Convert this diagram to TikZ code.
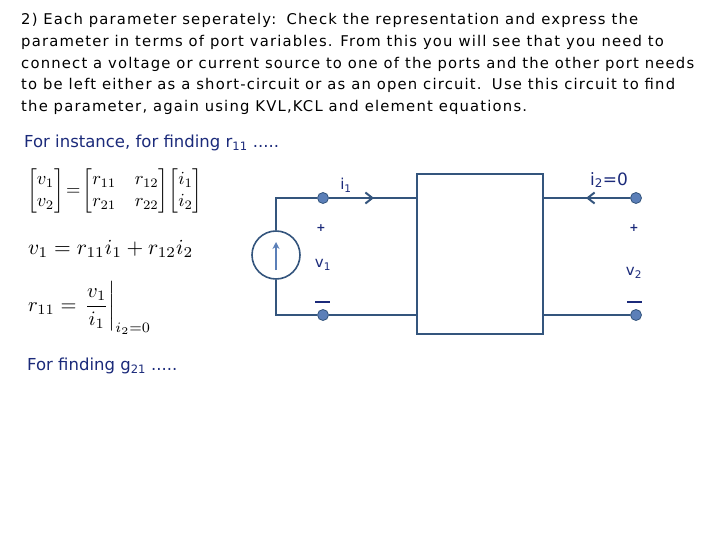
\documentclass[tikz,border=0pt]{standalone}
\usepackage{amsmath}
\usepackage{fontspec}
\setmainfont{DejaVu Sans}
\usetikzlibrary{arrows.meta}
\definecolor{wire}{HTML}{34557D}
\definecolor{term}{HTML}{5B7FB8}
\definecolor{navy}{HTML}{1B2A7A}
\tikzset{
 wr/.style={draw=wire,line width=1.6pt},
 tm/.style={circle,fill=term,draw=wire,line width=0.8pt,minimum size=11pt,inner sep=0pt},
 lb/.style={text=navy,font=\fontsize{14}{16}\selectfont,inner sep=0pt},
 ar/.style={wr,-{Straight Barb[length=7pt,width=11pt,line width=2pt]}},
 eq/.style={anchor=west,inner sep=0pt},
}
\begin{document}
\begin{tikzpicture}[x=1pt,y=-1pt]
\useasboundingbox (0,0) rectangle (720,540);
\node[anchor=north west,align=left,inner sep=0pt,font=\fontsize{14.8}{21.8}\selectfont\addfontfeature{LetterSpace=8}] (txt) at (21,13) {2) Each parameter seperately:\, Check the representation and express the\\parameter in terms of port variables. From this you will see that you need to\\connect a voltage or current source to one of the ports and the other port needs\\to be left either as a short-circuit or as an open circuit.\, Use this circuit to find\\the parameter, again using KVL,KCL and element equations.};
\node[anchor=west,lb,font=\fontsize{16.5}{18}\selectfont] (inst) at (24,143) {For instance, for finding r\textsubscript{\rmfamily 11} .....};
\node[anchor=west,lb,font=\fontsize{16.5}{18}\selectfont] (g21) at (27,366) {For finding g\textsubscript{21} .....};
\node[eq] (m1) at (27,191) {\scalebox{1.85}{$\begin{bmatrix}v_1\\v_2\end{bmatrix}\!=\!\begin{bmatrix}r_{11}&r_{12}\\r_{21}&r_{22}\end{bmatrix}\!\begin{bmatrix}i_1\\i_2\end{bmatrix}$}};
\node[eq] (m2) at (28,249) {\scalebox{2.15}{$v_1=r_{11}i_1+r_{12}i_2$}};
\node[eq] (m3) at (28,308) {\scalebox{2.05}{$r_{11}=\left.\dfrac{v_1}{i_1}\right|_{i_2=0}$}};
% circuit
\node[tm] (a) at (323,198) {};
\node[tm] (b) at (323,315) {};
\node[tm] (c) at (636,198) {};
\node[tm] (d) at (636,315) {};
\node[draw=wire,line width=1.6pt,minimum width=126pt,minimum height=160pt,inner sep=0pt] (box) at (480,254) {};
\node[circle,wr,minimum size=48pt,inner sep=0pt] (src) at (276,255) {};
\draw[draw=term,line width=1.8pt,-{Stealth[length=7pt,width=7pt]}] (276,270) -- (276,242);
\coordinate (tl) at (276,198);
\coordinate (bl) at (276,315);
\draw[wr] (src.north) -- (tl) -- (a);
\draw[wr] (src.south) -- (bl) -- (b);
\draw[wr] (a) -- (box.west|-a);
\draw[wr] (b) -- (box.west|-b);
\draw[wr] (c) -- (box.east|-c);
\draw[wr] (d) -- (box.east|-d);
\coordinate (i1a) at (355,198); \coordinate (i1b) at (374,198);
\draw[ar] (i1a) -- (i1b);
\coordinate (i2a) at (605,198); \coordinate (i2b) at (586,198);
\draw[ar] (i2a) -- (i2b);
\node[lb,font=\fontsize{15}{17}\selectfont] (li1) at (346,185) {i\textsubscript{1}};
\node[lb,font=\fontsize{17}{19}\selectfont] (li2) at (609,180) {i\textsubscript{2}=0};
\node[lb,font=\bfseries\fontsize{11}{12}\selectfont] (p1) at (321,228) {+};
\node[lb,font=\bfseries\fontsize{11}{12}\selectfont] (p2) at (634,228) {+};
\node[lb,font=\fontsize{15}{17}\selectfont] (v1) at (323,265) {v\textsubscript{1}};
\node[lb,font=\fontsize{15}{17}\selectfont] (v2) at (634,273) {v\textsubscript{2}};
\draw[draw=navy,line width=1.6pt] (315,302) -- (330,302);
\draw[draw=navy,line width=1.6pt] (627,302) -- (642,302);
\end{tikzpicture}
\end{document}
